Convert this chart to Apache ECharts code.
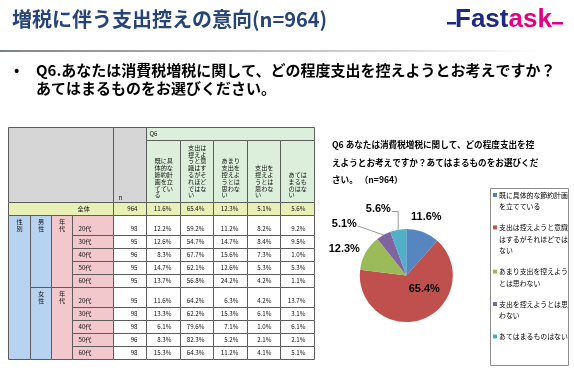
<!DOCTYPE html>
<html><head><meta charset="utf-8">
<script src="https://cdn.jsdelivr.net/npm/echarts@6/dist/echarts.min.js"></script>
<style>html,body{margin:0;padding:0;background:#fff;}#c{width:574px;height:372px;}</style>
</head><body><div id="c"></div>
<script>
// ---------------- data ----------------
const slideTitle = '増税に伴う支出控えの意向(n=964)';
const questionLines = ['Q6.あなたは消費税増税に関して、どの程度支出を控えようとお考えですか？', 'あてはまるものをお選びください。'];
const pieTitleLines = ['Q6 あなたは消費税増税に関して、どの程度支出を控', 'えようとお考えですか？あてはまるものをお選びくだ', 'さい。 （n=964）'];
const options = ['既に具体的な節約計画を立てている', '支出は控えようと意識はするがそれほどではない', 'あまり支出を控えようとは思わない', '支出を控えようとは思わない', 'あてはまるものはない'];
const totalLabel = '全体';
const totalN = 964;
const totalPct = [11.6, 65.4, 12.3, 5.1, 5.6];
const ageGroups = ['20代', '30代', '40代', '50代', '60代'];
const maleN = [98, 95, 96, 95, 95];
const malePct20 = [12.2, 59.2, 11.2, 8.2, 9.2];
const malePct30 = [12.6, 54.7, 14.7, 8.4, 9.5];
const malePct40 = [8.3, 67.7, 15.6, 7.3, 1.0];
const malePct50 = [14.7, 62.1, 12.6, 5.3, 5.3];
const malePct60 = [13.7, 56.8, 24.2, 4.2, 1.1];
const femaleN = [95, 98, 98, 96, 98];
const femalePct20 = [11.6, 64.2, 6.3, 4.2, 13.7];
const femalePct30 = [13.3, 62.2, 15.3, 6.1, 3.1];
const femalePct40 = [6.1, 79.6, 7.1, 1.0, 6.1];
const femalePct50 = [8.3, 82.3, 5.2, 2.1, 2.1];
const femalePct60 = [15.3, 64.3, 11.2, 4.1, 5.1];
const malePct = [malePct20, malePct30, malePct40, malePct50, malePct60];
const femalePct = [femalePct20, femalePct30, femalePct40, femalePct50, femalePct60];

// ---------------- layout / style ----------------
const FONT = '"Noto Sans CJK JP", sans-serif';
const pieColors = ['#4f81bd', '#c0504d', '#9bbb59', '#8064a2', '#4bacc6'];
const C_GRAY = '#d6d6d6', C_GREEN = '#dcefdb', C_YEL = '#e9f0b6', C_BLUE = '#b8d3f1', C_PINK = '#f2c8cd';
const colW = [22, 21, 21, 41, 33, 34, 33, 34, 33, 34];
const colX = [0]; colW.forEach(w => colX.push(colX[colX.length - 1] + w));
const TW = colX[colX.length - 1];
const hQ6 = 13, hHdr = 62, hRow = 13, hFirst = 20;

function chunk(s, n) { const out = []; for (let i = 0; i < s.length; i += n) out.push(s.slice(i, i + n)); return out; }
function pct(v) { return v.toFixed(1) + '%'; }

const cells = [];
function cell(x0, y0, x1, y1, fill, text, mode, extra) { cells.push(Object.assign({ x0, y0, x1, y1, fill, text, mode }, extra || {})); }

// header
cell(0, 0, colX[4], hQ6 + hHdr, C_GRAY, '', null);
cell(colX[4], 0, colX[5], hQ6 + hHdr, C_GRAY, 'n', 'n');
cell(colX[5], 0, TW, hQ6, C_GREEN, 'Q6', 'q6');
options.forEach((o, i) => cell(colX[5 + i], hQ6, colX[6 + i], hQ6 + hHdr, C_GREEN, chunk(o, 3).join('\n'), 'hdr'));
let y = hQ6 + hHdr;
// total row
cell(0, y, colX[4], y + hRow, C_YEL, totalLabel, 'l', { padL: colX[3] + 5 });
cell(colX[4], y, colX[5], y + hRow, C_YEL, String(totalN), 'r');
totalPct.forEach((v, i) => cell(colX[5 + i], y, colX[6 + i], y + hRow, C_YEL, pct(v), 'r'));
y += hRow;
const groupH = hFirst + hRow * (ageGroups.length - 1);
cell(0, y, colX[1], y + 2 * groupH, C_BLUE, '性\n別', 'stack');
[['男\n性', maleN, malePct], ['女\n性', femaleN, femalePct]].forEach(g => {
  cell(colX[1], y, colX[2], y + groupH, C_BLUE, g[0], 'stack');
  cell(colX[2], y, colX[3], y + groupH, C_PINK, '年\n代', 'stack');
  ageGroups.forEach((a, r) => {
    const h = r === 0 ? hFirst : hRow;
    cell(colX[3], y, colX[4], y + h, C_PINK, a, 'l', { padL: 6 });
    cell(colX[4], y, colX[5], y + h, '#fff', String(g[1][r]), 'r');
    g[2][r].forEach((v, i) => cell(colX[5 + i], y, colX[6 + i], y + h, '#fff', pct(v), 'r'));
    y += h;
  });
});
const TH = y;

function renderCell(params, api) {
  const c = cells[params.dataIndex];
  const a = api.coord([api.value(0), api.value(1)]);
  const b = api.coord([api.value(2), api.value(3)]);
  const x = Math.round(a[0]) + 0.5, yy = Math.round(a[1]) + 0.5;
  const w = Math.round(b[0]) - Math.round(a[0]), h = Math.round(b[1]) - Math.round(a[1]);
  const ch = [{ type: 'rect', shape: { x: x, y: yy, width: w, height: h }, style: { fill: c.fill, stroke: '#5c5c5c', lineWidth: 1 } }];
  if (c.text) {
    const st = { text: c.text, fill: '#111', fontSize: 6.2, fontFamily: FONT };
    let px, py, al = 'left', va = 'middle';
    if (c.mode === 'r') { px = x + w - 9; py = yy + h - 6.5; al = 'right'; }
    else if (c.mode === 'l') { px = x + c.padL; py = yy + h - 6.5; }
    else if (c.mode === 'n') { px = x + 5; py = yy + h - 5; }
    else if (c.mode === 'q6') { px = x + 3; py = yy + h / 2; }
    else if (c.mode === 'stack') { px = x + w / 2; py = yy + 3; al = 'center'; va = 'top'; st.lineHeight = 6.5; }
    else if (c.mode === 'hdr') { px = x + w / 2 - 9; py = yy + h - 4; va = 'bottom'; st.lineHeight = 6.8; }
    Object.assign(st, { x: px, y: py, align: al, verticalAlign: va, textAlign: al, textVerticalAlign: va });
    ch.push({ type: 'text', style: st });
  }
  return { type: 'group', children: ch };
}

// pie
const pieCx = 406.3, pieCy = 275.5, pieR = 46.5;
const labelOff = [[20, -58.5], [18, 13.5], [-62, -26.5], [-62, -52], [-28, -66.5]];
const withLine = [false, false, false, true, true];
const sumPct = totalPct.reduce((s, v) => s + v, 0);
function edgePoint(i) {
  let cum = 0; for (let k = 0; k < i; k++) cum += totalPct[k];
  const ang = (cum + totalPct[i] / 2) / sumPct * 2 * Math.PI;
  return [pieCx + pieR * Math.sin(ang), pieCy - pieR * Math.cos(ang)];
}
const dotDecal = { symbol: 'circle', symbolSize: 0.45, dashArrayX: [2, 0], dashArrayY: [2, 0], color: 'rgba(255,255,255,0.35)', rotation: 0 };

// legend rich
const legendRich = { t: { fontSize: 6.9, lineHeight: 11.7, color: '#000', fontFamily: FONT }, g: { width: 2, lineHeight: 11.7 }, p: { width: 6, lineHeight: 11.7 } };
pieColors.forEach((c, i) => legendRich['s' + i] = { width: 4, height: 4, backgroundColor: c, lineHeight: 11.7 });

const chart = echarts.init(document.getElementById('c'), null, { renderer: 'canvas' });
chart.setOption({
  animation: false,
  textStyle: { fontFamily: FONT },
  title: [
    { text: slideTitle, left: 12, top: 9, padding: 0, textStyle: { fontSize: 20, fontWeight: 'bold', color: '#264478', fontFamily: FONT } },
    { text: '•', left: 14, top: 61, padding: 0, textStyle: { fontSize: 14, fontWeight: 'bold', color: '#000', lineHeight: 18 } },
    { text: questionLines.join('\n'), left: 36, top: 61, padding: 0, textStyle: { fontSize: 15, fontWeight: 'bold', color: '#000', lineHeight: 18, fontFamily: FONT } },
    { text: pieTitleLines.join('\n'), left: 332, top: 136, padding: 0, textStyle: { fontSize: 8.6, fontWeight: 'bold', color: '#000', lineHeight: 17.5, fontFamily: FONT } },
    { text: '{a|Fast}{b|ask}', left: 455, top: 7, padding: 0, textStyle: { rich: {
      a: { fontSize: 26, fontWeight: 'bold', color: '#1d2a80', fontFamily: 'Liberation Sans' },
      b: { fontSize: 26, fontWeight: 'bold', color: '#e4007f', fontFamily: 'Liberation Sans' } } } }
  ],
  graphic: [
    { type: 'rect', shape: { x: 0, y: 50, width: 540, height: 2 }, style: { fill: new echarts.graphic.LinearGradient(0, 0, 1, 0, [{ offset: 0, color: '#6f7f99' }, { offset: 0.05, color: '#8a8a8a' }, { offset: 0.6, color: '#c8c8c8' }, { offset: 1, color: '#ffffff' }]) } },
    { type: 'rect', shape: { x: 447, y: 22, width: 9, height: 2.5 }, style: { fill: '#1d2a80' } },
    { type: 'rect', shape: { x: 552, y: 22, width: 11, height: 2.5 }, style: { fill: '#e4007f' } },
    { type: 'rect', shape: { x: 490.5, y: 188.5, width: 78, height: 177 }, style: { fill: '#fff', stroke: '#8c8c8c', lineWidth: 1 }, z: -1 }
  ],
  grid: { left: 8, top: 127, width: TW, height: TH, containLabel: false },
  xAxis: { type: 'value', min: 0, max: TW, show: false },
  yAxis: { type: 'value', min: 0, max: TH, inverse: true, show: false },
  legend: {
    data: options, orient: 'vertical', left: 488, top: 189, padding: 0, itemGap: 8.75,
    itemWidth: 0, itemHeight: 0, icon: 'rect', selectedMode: false,
    formatter: function (name) {
      const i = options.indexOf(name);
      return chunk(name, 10).map((p, k) => (k === 0 ? '{s' + i + '|}{g|}' : '{p|}') + '{t|' + p + '}').join('\n');
    },
    textStyle: { rich: legendRich }
  },
  series: [
    {
      type: 'custom', coordinateSystem: 'cartesian2d', clip: false, silent: true,
      renderItem: renderCell,
      data: cells.map(c => [c.x0, c.y0, c.x1, c.y1])
    },
    {
      type: 'pie', center: [pieCx, pieCy], radius: pieR, startAngle: 90, clockwise: true,
      avoidLabelOverlap: false, silent: true,
      itemStyle: { borderWidth: 0 },
      label: { show: true, formatter: p => pct(p.value), fontSize: 11, fontWeight: 'bold', color: '#000', fontFamily: 'Liberation Sans' },
      labelLine: { show: true, lineStyle: { color: '#7f7f7f', width: 0.8 } },
      labelLayout: function (params) {
        const i = params.dataIndex;
        const lx = pieCx + labelOff[i][0], ly = pieCy + labelOff[i][1];
        const res = { x: lx, y: ly, align: 'center', verticalAlign: 'middle' };
        if (withLine[i]) {
          const e = edgePoint(i);
          const hw = params.labelRect.width / 2;
          const s = [lx + hw + 1, ly + 2.5];
          res.labelLinePoints = i === 4 ? [s, [e[0], s[1]], e] : [s, [(s[0] + e[0]) / 2, (s[1] + e[1]) / 2], e];
        }
        return res;
      },
      data: options.map((n, i) => ({
        name: n, value: totalPct[i],
        itemStyle: Object.assign({ color: pieColors[i] }, (i === 0 || i === 4) ? { decal: dotDecal } : {}),
        labelLine: { show: withLine[i] }
      }))
    }
  ]
});
</script></body></html>
